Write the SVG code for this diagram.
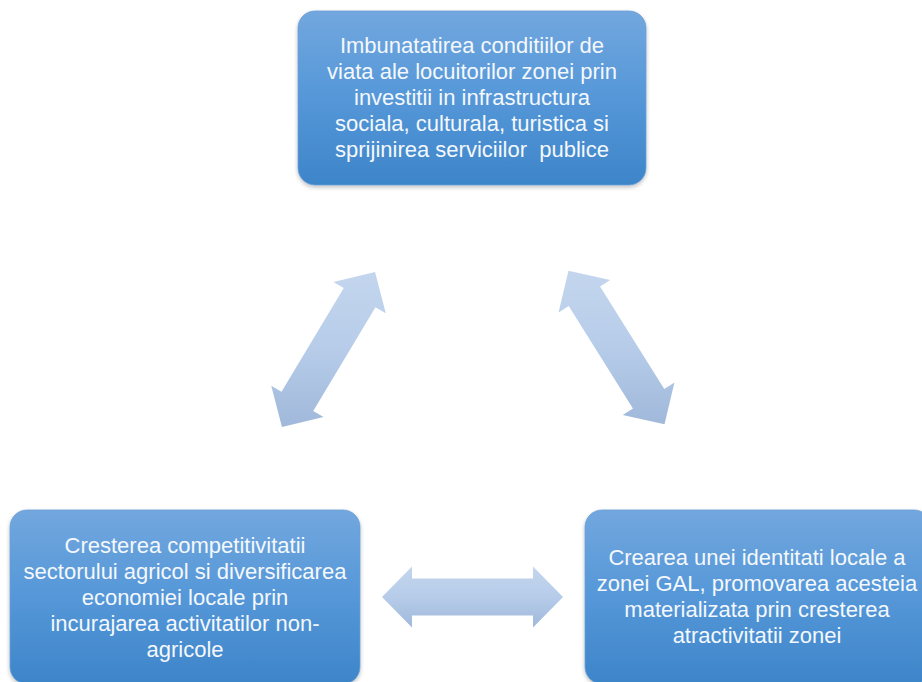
<svg xmlns="http://www.w3.org/2000/svg" width="922" height="682" viewBox="0 0 922 682">
<defs>
<linearGradient id="boxGrad" x1="0" y1="0" x2="0" y2="1">
<stop offset="0" stop-color="#72a7de"/>
<stop offset="0.5" stop-color="#5597d8"/>
<stop offset="1" stop-color="#3d85c9"/>
</linearGradient>
<linearGradient id="arrowGrad" x1="0" y1="0" x2="0" y2="1">
<stop offset="0" stop-color="#c4d6ee"/>
<stop offset="0.5" stop-color="#b6cce9"/>
<stop offset="1" stop-color="#a0b8da"/>
</linearGradient>
<filter id="shadow" x="-10%" y="-10%" width="120%" height="130%">
<feGaussianBlur in="SourceAlpha" stdDeviation="2"/>
<feOffset dy="2"/>
<feComponentTransfer><feFuncA type="linear" slope="0.25"/></feComponentTransfer>
<feMerge><feMergeNode/><feMergeNode in="SourceGraphic"/></feMerge>
</filter>
</defs>
<style>
.box { fill: url(#boxGrad); stroke: #6a9fd6; stroke-width: 0.8; filter: url(#shadow); }
.arrow { fill: url(#arrowGrad); stroke: none; }
.lbl { font-family: "Liberation Sans", Arial, sans-serif; font-size: 22px; fill: #f4f8fc; text-anchor: middle; white-space: pre; }
</style>
<rect width="922" height="682" fill="#ffffff"/>
<g id="connectors">
<polygon class="arrow" points="375.05,271.91 385.77,313.32 375.48,307.15 313.24,410.89 323.53,417.06 281.95,427.09 271.23,385.68 281.52,391.85 343.76,288.11 333.47,281.94"/>
<polygon class="arrow" points="568.49,270.78 610.25,280.03 600.08,286.40 664.28,388.98 674.45,382.61 664.51,424.22 622.75,414.97 632.92,408.60 568.72,306.02 558.55,312.39"/>
<polygon class="arrow" points="382,597 412,566.5 412,578.5 533,578.5 533,566.5 563,597 533,627.5 533,615.5 412,615.5 412,627.5"/>
</g>
<g id="node-top">
<rect class="box" x="298" y="11" width="348" height="174" rx="17" ry="17"/>
<text class="lbl" x="472" y="53">Imbunatatirea conditiilor de</text>
<text class="lbl" x="472" y="79">viata ale locuitorilor zonei prin</text>
<text class="lbl" x="472" y="105">investitii in infrastructura</text>
<text class="lbl" x="472" y="131">sociala, culturala, turistica si</text>
<text class="lbl" x="472" y="157">sprijinirea serviciilor  publice</text>
</g>
<g id="node-left">
<rect class="box" x="10" y="510" width="350" height="174" rx="17" ry="17"/>
<text class="lbl" x="185" y="553">Cresterea competitivitatii</text>
<text class="lbl" x="185" y="579">sectorului agricol si diversificarea</text>
<text class="lbl" x="185" y="605">economiei locale prin</text>
<text class="lbl" x="185" y="631">incurajarea activitatilor non-</text>
<text class="lbl" x="185" y="657">agricole</text>
</g>
<g id="node-right">
<rect class="box" x="585" y="510" width="346" height="174" rx="17" ry="17"/>
<text class="lbl" x="757" y="565">Crearea unei identitati locale a</text>
<text class="lbl" x="757" y="591">zonei GAL, promovarea acesteia</text>
<text class="lbl" x="757" y="617">materializata prin cresterea</text>
<text class="lbl" x="757" y="643">atractivitatii zonei</text>
</g>
</svg>
